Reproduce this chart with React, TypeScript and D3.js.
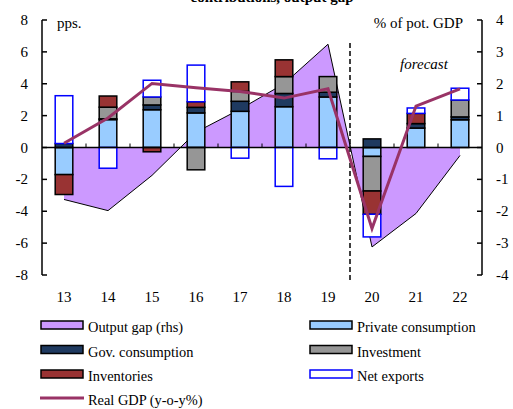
import React from 'react';
import * as d3 from 'd3';

const years = ['13', '14', '15', '16', '17', '18', '19', '20', '21', '22'];
const privateCons = [-1.7, 1.75, 2.37, 2.17, 2.27, 2.56, 3.17, -0.56, 1.22, 1.74];
const govCons = [0.25, 0.05, 0.3, 0.35, 0.63, 0.83, 0.3, 0.54, 0.28, 0.18];
const investment = [0, 0.73, 0.5, -1.4, 0.62, 1.06, 0.98, -2.17, 0, 1.06];
const inventories = [-1.25, 0.7, -0.27, 0.35, 0.6, 1.05, 0, -1.46, 0.64, 0];
const netExports = [3.0, -1.3, 1.05, 2.3, -0.67, -2.44, -0.71, -1.42, 0.34, 0.74];
const realGdp = [0.27, 1.85, 4.02, 3.75, 3.52, 3.1, 3.68, -5.08, 2.6, 3.68];
const outputGap = [-1.63, -1.98, -0.875, 0.48, 1.2, 2.0, 3.24, -3.12, -2.07, -0.25];
const leftTicks = [-8, -6, -4, -2, 0, 2, 4, 6, 8];
const rightTicks = [-4, -3, -2, -1, 0, 1, 2, 3, 4];

const seriesKeys = ['priv', 'gov', 'inv', 'stock', 'nx'];
const seriesFill: Record<string, string> = {
  priv: '#99ccff', gov: '#1f3a60', inv: '#969696', stock: '#993333', nx: '#ffffff',
};
const seriesStroke: Record<string, string> = {
  priv: '#000', gov: '#000', inv: '#000', stock: '#000', nx: '#0000ff',
};

const font = '"Liberation Serif", "Times New Roman", serif';

export default function App() {
  const width = 513;
  const height = 409;

  const x = d3.scaleBand().domain(years).range([42, 482]).paddingInner(0.6).paddingOuter(0.3);
  const yL = d3.scaleLinear().domain([-8, 8]).range([275, 20]);
  const yR = d3.scaleLinear().domain([-4, 4]).range([275, 20]);
  const cx = (d: string) => (x(d) as number) + x.bandwidth() / 2;

  const rows = years.map((yr, i) => ({
    yr, priv: privateCons[i], gov: govCons[i], inv: investment[i], stock: inventories[i], nx: netExports[i],
  }));
  const stack = d3.stack<any>().keys(seriesKeys).offset(d3.stackOffsetDiverging);
  const stacked = stack(rows);

  const gapArea = d3.area<number>()
    .x((d, i) => cx(years[i]))
    .y0(yR(0))
    .y1((d) => yR(d));
  const gapLine = d3.line<number>().x((d, i) => cx(years[i])).y((d) => yR(d));
  const gdpLine = d3.line<number>().x((d, i) => cx(years[i])).y((d) => yL(d));

  const forecastX = (x('19') as number) + x.bandwidth() + (x.step() - x.bandwidth()) / 2;

  const legend = [
    { label: 'Output gap (rhs)', fill: '#cc99ff', stroke: '#000', col: 0, row: 0 },
    { label: 'Private consumption', fill: '#99ccff', stroke: '#000', col: 1, row: 0 },
    { label: 'Gov. consumption', fill: '#1f3a60', stroke: '#000', col: 0, row: 1 },
    { label: 'Investment', fill: '#969696', stroke: '#000', col: 1, row: 1 },
    { label: 'Inventories', fill: '#993333', stroke: '#000', col: 0, row: 2 },
    { label: 'Net exports', fill: '#ffffff', stroke: '#0000ff', col: 1, row: 2 },
  ];

  return (
    <svg width={width} height={height} style={{ position: 'absolute', left: 0, top: 0 }} fontFamily={font}>
      <rect width={width} height={height} fill="#fff" />
      {/* title sits mostly above the frame, as in the source */}
      <text x={272} y={2} textAnchor="middle" fontSize={15} fontWeight="bold">contributions, output gap</text>

      {/* output gap area (rhs) */}
      <path d={gapArea(outputGap) as string} fill="#cc99ff" />
      <path d={gapLine(outputGap) as string} fill="none" stroke="#000" strokeWidth={1} />

      {/* stacked contributions */}
      {stacked.map((s) => (
        <g key={s.key}>
          {s.map((d, i) => {
            const h = Math.abs(yL(d[0]) - yL(d[1]));
            if (h < 0.5) return null;
            return (
              <rect key={i} x={x(years[i])} width={x.bandwidth()}
                y={Math.min(yL(d[0]), yL(d[1]))} height={h}
                fill={seriesFill[s.key]} stroke={seriesStroke[s.key]} strokeWidth={1.5} />
            );
          })}
        </g>
      ))}

      {/* zero axis with category ticks */}
      <line x1={42} x2={482} y1={yL(0)} y2={yL(0)} stroke="#000" strokeWidth={1.5} />
      {years.slice(1).map((yr) => (
        <line key={yr} x1={x(yr)! - (x.step() - x.bandwidth()) / 2} x2={x(yr)! - (x.step() - x.bandwidth()) / 2}
          y1={yL(0)} y2={yL(0) - 4} stroke="#000" strokeWidth={1} />
      ))}

      {/* forecast divider */}
      <line x1={forecastX} x2={forecastX} y1={43} y2={281} stroke="#000" strokeWidth={1.5} strokeDasharray="5,3" />
      <text x={424} y={69} textAnchor="middle" fontSize={15} fontStyle="italic">forecast</text>

      {/* real GDP */}
      <path d={gdpLine(realGdp) as string} fill="none" stroke="#993366" strokeWidth={3} strokeLinejoin="miter" />

      {/* left axis */}
      <line x1={42} x2={42} y1={yL(8)} y2={yL(-8)} stroke="#000" strokeWidth={1.5} />
      {leftTicks.map((t) => (
        <g key={t}>
          <line x1={42} x2={47} y1={yL(t)} y2={yL(t)} stroke="#000" strokeWidth={1.5} />
          <text x={28} y={yL(t) + 5} textAnchor="end" fontSize={15}>{t}</text>
        </g>
      ))}
      {/* right axis */}
      <line x1={482} x2={482} y1={yR(4)} y2={yR(-4)} stroke="#000" strokeWidth={1.5} />
      {rightTicks.map((t) => (
        <g key={t}>
          <line x1={477} x2={482} y1={yR(t)} y2={yR(t)} stroke="#000" strokeWidth={1.5} />
          <text x={496} y={yR(t) + 5} textAnchor="start" fontSize={15}>{t}</text>
        </g>
      ))}
      <text x={57} y={28} fontSize={15}>pps.</text>
      <text x={463} y={28} textAnchor="end" fontSize={15}>% of pot. GDP</text>

      {/* category labels */}
      {years.map((yr) => (
        <text key={yr} x={cx(yr)} y={302} textAnchor="middle" fontSize={15}>{yr}</text>
      ))}

      {/* legend */}
      {legend.map((l) => {
        const lx = l.col === 0 ? 41 : 310;
        const ly = 321 + l.row * 24.5;
        return (
          <g key={l.label}>
            <rect x={lx} y={ly} width={42} height={8} fill={l.fill} stroke={l.stroke} strokeWidth={1.5} />
            <text x={lx + 47} y={ly + 11} fontSize={14.4}>{l.label}</text>
          </g>
        );
      })}
      <line x1={40} x2={84} y1={398} y2={398} stroke="#993366" strokeWidth={3} />
      <text x={88} y={405} fontSize={14.4}>Real GDP (y-o-y%)</text>
    </svg>
  );
}
